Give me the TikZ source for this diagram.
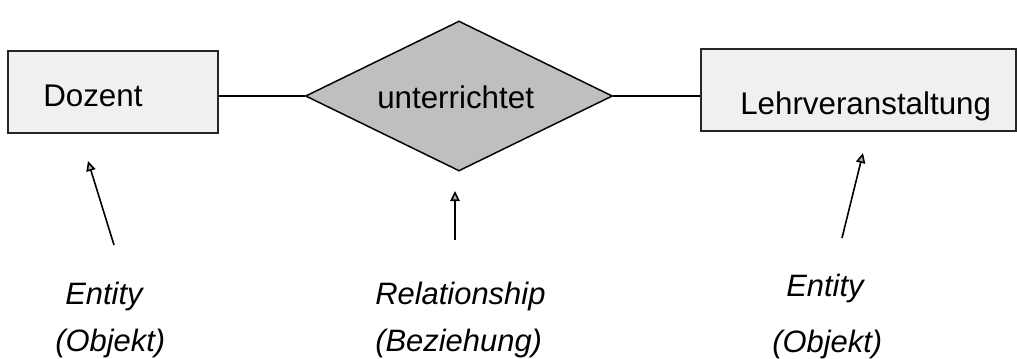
\documentclass[tikz,border=0pt]{standalone}
\usepackage{fontspec}
\setmainfont{Liberation Sans}
\usetikzlibrary{shapes.geometric,arrows.meta}

\tikzset{
  entitybox/.style={draw=black!85, line width=1.2pt, fill=black!6,
    inner sep=0pt, minimum width=#1},
  relbox/.style={diamond, draw=black, line width=1.1pt, fill=black!25,
    inner sep=0pt, minimum width=230.25pt, minimum height=112.5pt},
  boxtext/.style={inner sep=0pt, anchor=base west, font=\fontsize{23.5}{28}\selectfont},
  notetext/.style={inner sep=0pt, anchor=base west, font=\fontsize{23.2}{28}\selectfont\itshape},
  link/.style={line width=1.1pt},
  pointer/.style={line width=1.2pt,
    -{Triangle[length=7.5pt, width=7pt, fill=black!30, line width=1.2pt]}}
}

\begin{document}
\begin{tikzpicture}[x=0.75pt, y=-0.75pt]
  \useasboundingbox (0,0) rectangle (1017,358);

  % entities and relationship
  \node[entitybox=157.5pt, minimum height=61.5pt] (doz) at (113,92) {};
  \node[entitybox=236.25pt, minimum height=61.5pt] (lv) at (858.5,90) {};
  \node[relbox] (rel) at (459,96) {};

  \node[boxtext] (dozt) at (43,106) {Dozent};
  \node[boxtext] (relt) at (377,108) {unterrichtet};
  \node[boxtext] (lvt) at (740,114) {Lehrveranstaltung};

  % connecting lines
  \draw[link] (doz.east |- rel.west) -- (rel.west);
  \draw[link] (rel.east) -- (lv.west |- rel.east);

  % pointers from the annotations
  \coordinate (p1s) at (114,245);
  \coordinate (p1e) at (88,161);
  \coordinate (p2s) at (455,240);
  \coordinate (p2e) at (455,191);
  \coordinate (p3s) at (842,238);
  \coordinate (p3e) at (863,153);
  \draw[pointer] (p1s) -- (p1e);
  \draw[pointer] (p2s) -- (p2e);
  \draw[pointer] (p3s) -- (p3e);

  % annotations
  \node[notetext] (n1a) at (65,304) {Entity};
  \node[notetext] (n1b) at (55,351) {(Objekt)};
  \node[notetext] (n2a) at (375,304) {Relationship};
  \node[notetext] (n2b) at (375,351) {(Beziehung)};
  \node[notetext] (n3a) at (786,296) {Entity};
  \node[notetext] (n3b) at (772,352) {(Objekt)};
\end{tikzpicture}
\end{document}
